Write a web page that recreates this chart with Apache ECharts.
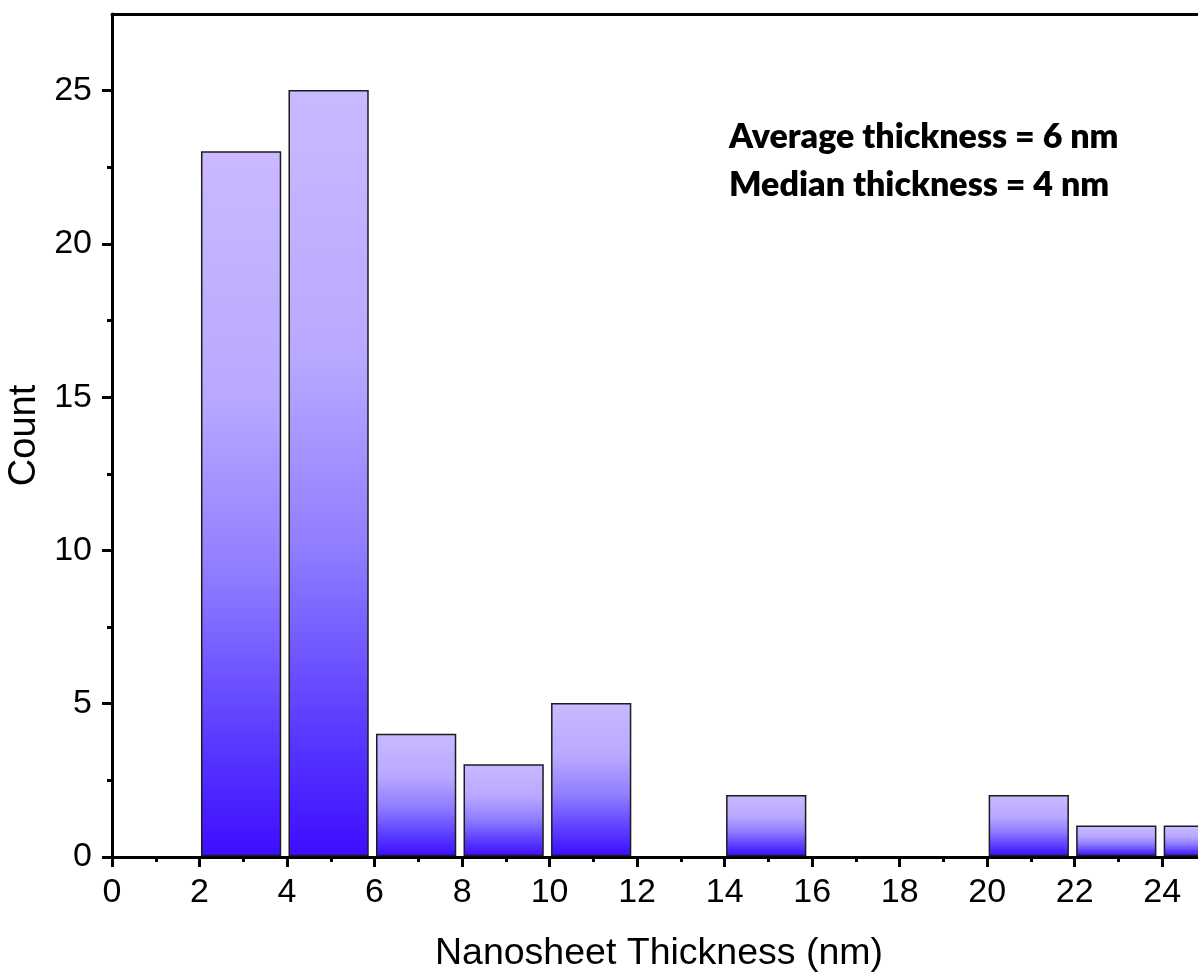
<!DOCTYPE html>
<html>
<head>
<meta charset="utf-8">
<script src="https://cdn.jsdelivr.net/npm/echarts@6/dist/echarts.min.js"></script>
<style>
html,body{margin:0;padding:0;background:#fff;overflow:hidden;}
#chart{width:1220px;height:973px;}
</style>
</head>
<body>
<div id="chart"></div>
<script>
// Histogram bins (nm) and counts
const binStarts = [2, 4, 6, 8, 10, 12, 14, 16, 18, 20, 22, 24];
const binEnds   = [4, 6, 8, 10, 12, 14, 16, 18, 20, 22, 24, 26];
const counts    = [23, 25, 4, 3, 5, 0, 2, 0, 0, 2, 1, 1];

const xTicks = [0, 2, 4, 6, 8, 10, 12, 14, 16, 18, 20, 22, 24];
const xMinorTicks = [1, 3, 5, 7, 9, 11, 13, 15, 17, 19, 21, 23];
const yTicks = [0, 5, 10, 15, 20, 25];
const yMinorTicks = [2.5, 7.5, 12.5, 17.5, 22.5];

const xName = 'Nanosheet Thickness (nm)';
const yName = 'Count';
const noteLines = ['Average thickness = 6 nm', 'Median thickness = 4 nm'];

const chart = echarts.init(document.getElementById('chart'));

const barData = binStarts.map((s, i) => [s, binEnds[i], counts[i]]);

const gradient = new echarts.graphic.LinearGradient(0, 0, 0, 1, [
  {offset: 0, color: '#cab9ff'},
  {offset: 0.35, color: '#b9a8ff'},
  {offset: 0.6, color: '#8f7dff'},
  {offset: 0.82, color: '#5c3fff'},
  {offset: 1, color: '#3e0cff'}
]);

const FONT = 'Liberation Sans, Arial, sans-serif';

option = {
  animation: false,
  backgroundColor: '#fff',
  grid: {left: 112, right: 14, top: 14, bottom: 116, containLabel: false, outerBoundsMode: 'none'},
  xAxis: [
    {
      type: 'value', min: 0, max: 25, position: 'bottom',
      axisLine: {show: true, onZero: false, lineStyle: {color: '#000', width: 3}},
      axisTick: {show: true, inside: false, length: 10, lineStyle: {color: '#000', width: 3}, customValues: xTicks},
      axisLabel: {margin: 19, customValues: xTicks, fontFamily: FONT, fontSize: 34, color: '#000'},
      splitLine: {show: false},
      name: xName, nameLocation: 'middle', nameGap: 78,
      nameTextStyle: {fontFamily: FONT, fontSize: 37.5, color: '#000'}
    },
    {
      type: 'value', min: 0, max: 25, position: 'bottom',
      axisLine: {show: false},
      axisTick: {show: true, inside: false, length: 5, lineStyle: {color: '#000', width: 3}, customValues: xMinorTicks},
      axisLabel: {show: false},
      splitLine: {show: false}
    },
    {
      type: 'value', min: 0, max: 25, position: 'top',
      axisLine: {show: true, onZero: false, lineStyle: {color: '#000', width: 3}},
      axisTick: {show: false}, axisLabel: {show: false}, splitLine: {show: false}
    }
  ],
  yAxis: [
    {
      type: 'value', min: 0, max: 27.5, position: 'left',
      axisLine: {show: true, onZero: false, lineStyle: {color: '#000', width: 3}},
      axisTick: {show: true, inside: false, length: 10, lineStyle: {color: '#000', width: 3}, customValues: yTicks},
      axisLabel: {margin: 20, customValues: yTicks, fontFamily: FONT, fontSize: 34, color: '#000'},
      splitLine: {show: false},
      name: yName, nameLocation: 'middle', nameGap: 54, nameRotate: 90,
      nameTextStyle: {fontFamily: FONT, fontSize: 38, color: '#000'}
    },
    {
      type: 'value', min: 0, max: 27.5, position: 'left',
      axisLine: {show: false},
      axisTick: {show: true, inside: false, length: 5, lineStyle: {color: '#000', width: 3}, customValues: yMinorTicks},
      axisLabel: {show: false},
      splitLine: {show: false}
    }
  ],
  series: [
    {
      type: 'custom',
      xAxisIndex: 0, yAxisIndex: 0,
      clip: true,
      data: barData,
      renderItem: function (params, api) {
        const v = api.value(2);
        if (!v) return null;
        const p0 = api.coord([api.value(0) + 0.05, v]);
        const p1 = api.coord([api.value(1) - 0.15, 0]);
        const rect = {x: p0[0], y: p0[1], width: p1[0] - p0[0], height: p1[1] - p0[1] - 1.5};
        const clipped = echarts.graphic.clipRectByRect(rect, {
          x: params.coordSys.x, y: params.coordSys.y,
          width: params.coordSys.width, height: params.coordSys.height
        });
        if (!clipped) return null;
        return {
          type: 'rect',
          shape: clipped,
          style: {fill: gradient, stroke: '#1c1c1c', lineWidth: 1.5}
        };
      },
      z: 2
    }
  ],
  graphic: [
    {
      type: 'text', left: 729, top: 113,
      style: {
        text: noteLines.join('\n'),
        font: '800 34px Lato, "Open Sans", sans-serif',
        fill: '#000', lineHeight: 48
      }
    }
  ]
};

chart.setOption(option);
</script>
</body>
</html>
